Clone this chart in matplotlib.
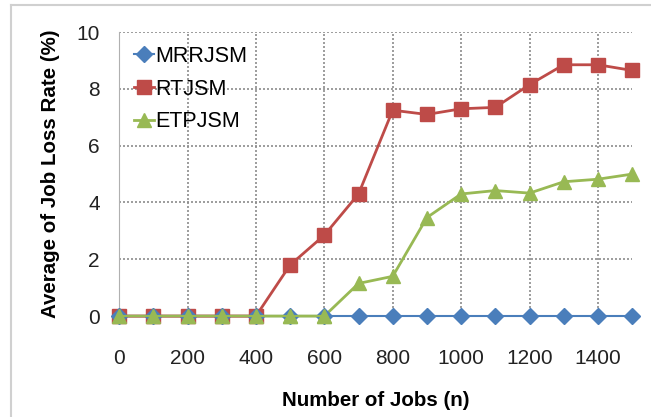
import matplotlib
matplotlib.use('Agg')
import matplotlib.pyplot as plt
from matplotlib.lines import Line2D

plt.rcParams['font.family'] = ['Liberation Sans', 'DejaVu Sans']

jobs = [0, 100, 200, 300, 400, 500, 600, 700, 800, 900, 1000, 1100, 1200, 1300, 1400, 1500]
mrrjsm = [0] * 16
rtjsm = [0, 0, 0, 0, 0, 1.8, 2.85, 4.3, 7.25, 7.1, 7.3, 7.35, 8.15, 8.85, 8.85, 8.65]
etpjsm = [0, 0, 0, 0, 0, 0, 0, 1.15, 1.4, 3.47, 4.3, 4.42, 4.33, 4.73, 4.82, 5.0]

blue, red, green = '#4a7ebb', '#be4b48', '#98b954'

fig = plt.figure(figsize=(6.51, 4.17), dpi=100)
ax = fig.add_axes([0.183, 0.242, 0.788, 0.681])

ax.plot(jobs, rtjsm, color=red, marker='s', markersize=10, lw=2, clip_on=False, zorder=4)
ax.plot(jobs, mrrjsm, color=blue, marker='D', markersize=8, lw=1.5, clip_on=False, zorder=5)
ax.plot(jobs, etpjsm, color=green, marker='^', markersize=10, lw=2, clip_on=False, zorder=3)
# green zero run sits on top of the others in the reference
ax.plot(jobs[:7], etpjsm[:7], color=green, marker='^', markersize=10, lw=1.5,
        clip_on=False, zorder=6)

ax.set_xlim(0, 1500)
ax.set_ylim(0, 10)
ax.set_xticks(range(0, 1500, 200))
ax.set_yticks(range(0, 11, 2))
ax.grid(True, color='#8c8c8c', linestyle=(0, (1.2, 1.2)), lw=1.2)
ax.set_axisbelow(True)
for s in ['top', 'right', 'bottom']:
    ax.spines[s].set_visible(False)
ax.spines['left'].set_color('#b0b0b0')
ax.tick_params(length=0, labelsize=15, colors='#222222')
ax.tick_params(axis='x', pad=24)
ax.tick_params(axis='y', pad=14)

ax.set_xlabel('Number of Jobs (n)', fontsize=14.8, fontweight='bold', labelpad=16)
ax.set_ylabel('Average of Job Loss Rate (%)', fontsize=14.8, fontweight='bold', labelpad=12)

handles = [
    Line2D([], [], color=blue, marker='D', markersize=8, lw=1.5),
    Line2D([], [], color=red, marker='s', markersize=10, lw=2),
    Line2D([], [], color=green, marker='^', markersize=10, lw=2),
]
ax.legend(handles, ['MRRJSM', 'RTJSM', 'ETPJSM'], loc='upper left', frameon=False,
          fontsize=15.5, handlelength=0.9, handletextpad=0.1, labelspacing=0.55,
          bbox_to_anchor=(0.0, 1.005), borderaxespad=0.3)

fig.add_artist(Line2D([11 / 651, 11 / 651], [0, 1 - 5 / 417], transform=fig.transFigure,
                      color='#d0d0d0', lw=1.5))
fig.add_artist(Line2D([11 / 651, 1], [1 - 5 / 417, 1 - 5 / 417], transform=fig.transFigure,
                      color='#d0d0d0', lw=1.5))

fig.savefig('out.png', dpi=100)
